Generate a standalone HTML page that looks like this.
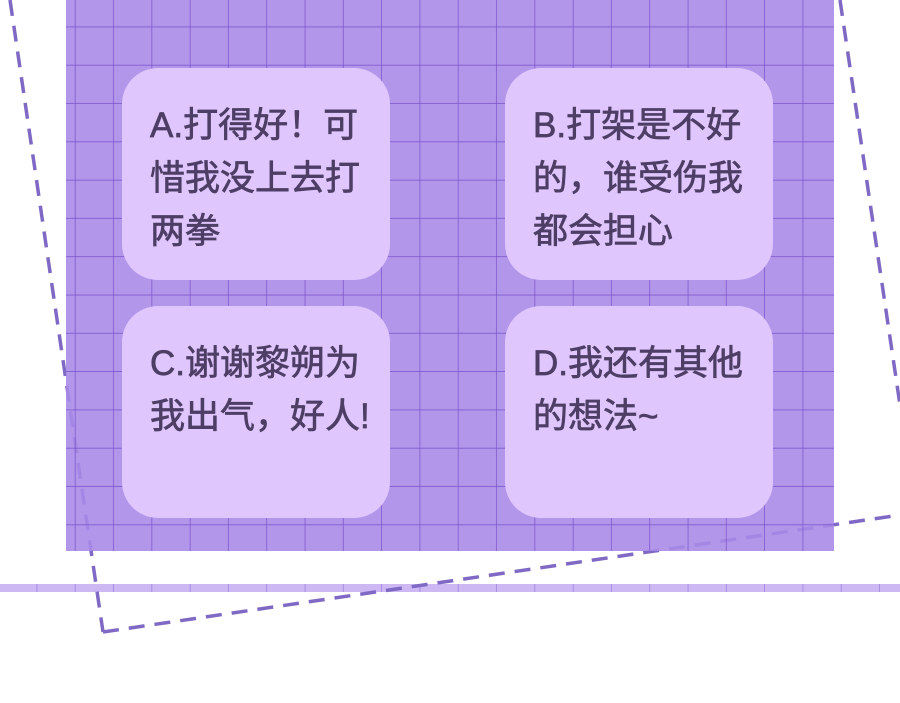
<!DOCTYPE html>
<html><head><meta charset="utf-8"><style>
html,body{margin:0;padding:0;background:#fff;}
body{width:900px;height:703px;position:relative;overflow:hidden;font-family:"Liberation Sans","Noto Sans CJK SC",sans-serif;}
svg{position:absolute;left:0;top:0;}
.b{position:absolute;width:268px;height:212px;background:#dfc6fd;border-radius:36px;}
.t{position:absolute;left:28px;top:31px;font-size:35px;line-height:53px;color:#4e3e66;white-space:nowrap;-webkit-text-stroke:0.7px #4e3e66;}
</style></head><body>
<svg width="900" height="703">
<defs>
<pattern id="g" x="-1" y="-11" width="38.3" height="38.3" patternUnits="userSpaceOnUse">
<path d="M38.3 0V38.3M0 38.3H38.3" stroke="#7a52cc" stroke-width="1.4" fill="none"/>
</pattern>
</defs>
<rect x="0" y="584" width="900" height="8" fill="#cdb8f3"/>
<rect x="0" y="584" width="900" height="8" fill="url(#g)" opacity="0.6"/>
<g stroke="#7f69c4" stroke-width="3.5" stroke-dasharray="16 10" fill="none">
<line x1="10" y1="0" x2="103" y2="632"/>
<line x1="103" y1="632" x2="900" y2="515"/>
<line x1="840" y1="0" x2="900" y2="405"/>
</g>
<rect x="66" y="0" width="768" height="551" fill="#a98be8" opacity="0.9"/>
<rect x="66" y="0" width="768" height="551" fill="url(#g)"/>
</svg>
<div class="b" style="left:122px;top:68px"><div class="t">A.打得好！可<br>惜我没上去打<br>两拳</div></div>
<div class="b" style="left:505px;top:68px"><div class="t">B.打架是不好<br>的，谁受伤我<br>都会担心</div></div>
<div class="b" style="left:122px;top:306px"><div class="t">C.谢谢黎朔为<br>我出气，好人!</div></div>
<div class="b" style="left:505px;top:306px"><div class="t">D.我还有其他<br>的想法~</div></div>
</body></html>
